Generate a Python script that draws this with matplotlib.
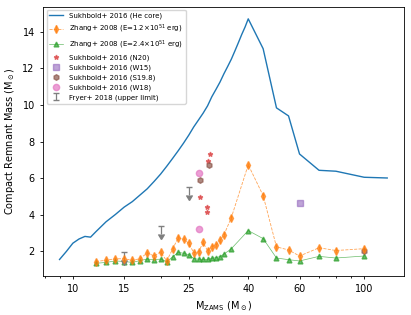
import matplotlib
matplotlib.use("Agg")
import matplotlib.pyplot as plt
from matplotlib.ticker import FixedLocator, FixedFormatter, NullFormatter

# Sukhbold+ 2016, He core mass vs ZAMS mass
he_mzams = [9, 9.5, 10, 10.5, 11, 11.5, 12, 13, 14, 15, 16, 17, 18, 19, 20,
            21, 22, 23, 24, 25, 26, 27, 28, 29, 30, 31, 32, 33, 34, 35, 36,
            37, 38, 39, 40, 45, 50, 55, 60, 70, 80, 100, 120]
he_mass = [1.56, 2.0, 2.45, 2.68, 2.82, 2.78, 3.08, 3.62, 4.02, 4.42, 4.72,
           5.08, 5.42, 5.82, 6.22, 6.65, 7.08, 7.50, 7.92, 8.35, 8.80, 9.18,
           9.55, 9.95, 10.45, 10.85, 11.25, 11.70, 12.10, 12.50, 12.95, 13.40,
           13.85, 14.25, 14.70, 13.07, 9.84, 9.40, 7.32, 6.43, 6.38, 6.05, 6.01]

# Zhang+ 2008
zh_mzams = [12, 13, 14, 15, 16, 17, 18, 19, 20, 21, 22, 23, 24, 25, 26, 27,
            28, 29, 30, 31, 32, 33, 35, 40, 45, 50, 55, 60, 70, 80, 100]
zh_e12 = [1.45, 1.52, 1.60, 1.60, 1.52, 1.60, 1.92, 1.75, 1.97, 1.48, 2.13,
          2.75, 2.67, 2.44, 1.93, 1.97, 2.49, 2.04, 2.26, 2.35, 2.60, 2.90,
          3.85, 6.73, 5.05, 2.25, 2.08, 1.75, 2.20, 2.05, 2.15]
zh_e24 = [1.35, 1.40, 1.48, 1.45, 1.40, 1.50, 1.58, 1.55, 1.58, 1.45, 1.70,
          1.95, 1.90, 1.82, 1.60, 1.58, 1.56, 1.56, 1.62, 1.66, 1.72, 1.85,
          2.15, 3.14, 2.70, 1.64, 1.55, 1.48, 1.73, 1.64, 1.75]

# Sukhbold+ 2016 individual engines
n20_m = [29.6, 29.2, 27.3, 28.9, 28.9]
n20_y = [7.32, 6.95, 4.96, 4.42, 4.18]
w15_m = [60]
w15_y = [4.65]
s198_m = [29.4, 27.4, 100]
s198_y = [6.74, 5.92, 2.03]
w18_m = [27.2, 27.1]
w18_y = [6.27, 3.20]

# Fryer+ 2018 upper limits
fr_m = [15, 20, 25]
fr_y = [1.95, 3.38, 5.54]
fr_err = [0.40, 0.42, 0.45]

xticks = [10, 15, 25, 40, 60, 100]

plt.rcParams['font.size'] = 7
fig = plt.figure(figsize=(4.11, 3.15), dpi=100)
ax = fig.add_axes([0.105, 0.124, 0.877, 0.855])

h1, = ax.plot(he_mzams, he_mass, color='tab:blue', lw=1.0,
              label='Sukhbold+ 2016 (He core)')
h2 = ax.errorbar(zh_mzams, zh_e12, yerr=0.12, fmt='d--', color='tab:orange',
                 ms=4, lw=0.6, elinewidth=0.8, alpha=0.7,
                 label=r'Zhang+ 2008 (E=1.2$\times10^{51}$ erg)')
h3, = ax.plot(zh_mzams, zh_e24, '^-', color='tab:green', ms=3.5, lw=0.5,
              alpha=0.7, label=r'Zhang+ 2008 (E=2.4$\times10^{51}$ erg)')
h4, = ax.plot(n20_m, n20_y, '*', color='tab:red', ms=3.5, alpha=0.6,
              ls='none', label='Sukhbold+ 2016 (N20)')
h5, = ax.plot(w15_m, w15_y, 's', color='tab:purple', ms=4, alpha=0.6,
              ls='none', label='Sukhbold+ 2016 (W15)')
h6, = ax.plot(s198_m, s198_y, 'h', color='tab:brown', ms=4, alpha=0.7,
              ls='none', label='Sukhbold+ 2016 (S19.8)')
h7, = ax.plot(w18_m, w18_y, 'o', color='tab:pink', ms=4.5, alpha=0.7,
              ls='none', label='Sukhbold+ 2016 (W18)')
h8 = ax.errorbar(fr_m, fr_y, yerr=fr_err, uplims=True, fmt='none',
                 color='tab:gray', capsize=2.5, elinewidth=0.9,
                 label='Fryer+ 2018 (upper limit)')

ax.set_xscale('log')
ax.xaxis.set_major_locator(FixedLocator(xticks))
ax.xaxis.set_major_formatter(FixedFormatter([str(t) for t in xticks]))
ax.xaxis.set_minor_formatter(NullFormatter())
ax.tick_params(which='both', width=0.6)
ax.tick_params(which='major', length=2.5)
ax.tick_params(which='minor', length=1.5)
for s in ax.spines.values():
    s.set_linewidth(0.6)

ax.set_xlabel(r'M$_{\rm ZAMS}$ (M$_\odot$)')
ax.set_ylabel(r'Compact Remnant Mass (M$_\odot$)')
handles = [h1, h2, h3, h4, h5, h6, h7, h8]
ax.legend(handles, [h.get_label() for h in handles], loc='upper left',
          fontsize=5.0, framealpha=0.8)

fig.savefig('out.png', dpi=100)
